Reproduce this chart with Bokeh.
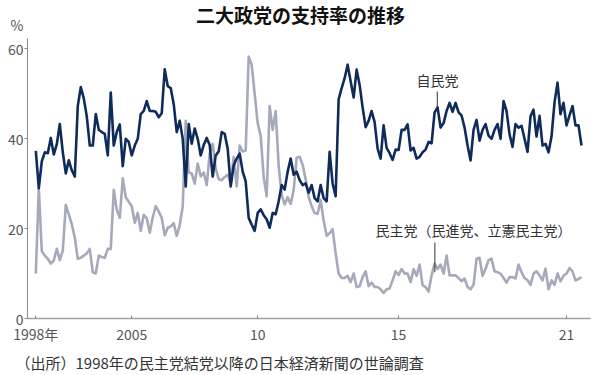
from bokeh.plotting import figure
from bokeh.models import Range1d, FixedTicker, Label, LinearAxis, Title
from bokeh.embed import file_html
from bokeh.resources import INLINE

# --- data (survey index along x) ---
ldp = [37.3, 29, 35, 37, 36.8, 40.2, 36.5, 38.8, 43.3, 37, 32.3, 35.2, 33, 31.6, 47.3, 51.5, 49, 45,
       38.5, 38.5, 45.5, 42, 41.5, 41.1, 36.3, 50.3, 38.5, 41.5, 43.2, 33.9, 40, 39.3, 36.3, 38.5, 40,
       45.5, 46.2, 48.4, 46.2, 46.2, 46, 44.8, 45.7, 55.5, 51.7, 51.3, 47.7, 41.5, 44, 40, 29.4, 43.3,
       38.9, 42.3, 40, 36.3, 38.6, 40.2, 38.6, 31.6, 36.3, 37.2, 41.5, 41.1, 37.8, 29.4, 34.1, 35.6,
       36.7, 32.7, 30.5, 22.4, 20.9, 19.5, 23.5, 24.3, 23, 22.1, 20.2, 23.5, 23.2, 26.1, 29.7, 28.7,
       32.7, 35.6, 32, 32.7, 30.8, 29.7, 30.1, 28, 29.7, 26.8, 26.1, 29.7, 26.8, 26.1, 37.1, 30, 27.2,
       48.8, 51.3, 53.5, 56.5, 52.8, 49.2, 55.4, 52, 47, 42.6, 44, 46.2, 43.7, 37.8, 35.6, 43, 38,
       36.8, 35.3, 37.6, 37.5, 42, 42, 43.2, 37.4, 38, 35.6, 36, 37, 37.6, 39.3, 39, 45.9, 47, 42.5,
       43.5, 46.2, 48, 46, 48, 45.9, 45.2, 42.5, 38.5, 35.2, 42, 44.2, 39.6, 42, 43.3, 40.7, 40, 42,
       43.3, 40, 48.4, 46.2, 41, 38.2, 43.3, 42.5, 42.9, 40, 37.1, 45, 46.5, 40.5, 45.1, 38.5, 38.9,
       37, 40.5, 48.1, 52.5, 45.5, 48, 43, 45.2, 47.3, 43, 43, 38.5]

dpj = [10, 29, 15, 14, 13.3, 12.2, 12.9, 15.5, 13, 15.1, 25.3, 23.2, 21, 18, 13.3, 13.5, 14, 14.5,
       15.5, 10.3, 10, 14, 13.7, 13.5, 15.5, 15.5, 28.6, 24.2, 22.4, 31.2, 27, 26, 25, 21.3, 23.5,
       19.5, 23.1, 22.3, 19.1, 22.5, 25, 23.8, 22.4, 18.5, 20.2, 20.5, 21.2, 18.4, 20.8, 25, 44, 32.5,
       32.3, 30, 34.5, 31.6, 32.5, 29.7, 36.7, 38.9, 33.4, 31, 30.8, 31.5, 32, 30.1, 36, 29.4, 38.5,
       37.2, 37.4, 58.3, 56.5, 50, 43.5, 40.7, 31.5, 27.2, 47.3, 42, 46.2, 34, 27.5, 25.4, 27, 25.5,
       28.6, 35.8, 36, 34.2, 31, 27, 25, 23.5, 23.3, 26.4, 21.8, 18.4, 19, 19.9, 14.5, 10, 9, 9, 9.5,
       8.1, 10, 7, 7.2, 9.2, 10.5, 7.2, 8, 7, 7, 6.5, 5.7, 6.5, 6.7, 8.5, 10.5, 9.7, 11, 10, 10, 8.1,
       11, 9.5, 12, 7.4, 7, 6, 9.6, 12.2, 11, 12, 10, 14, 9.6, 9.6, 9.6, 9, 8.3, 8.9, 7, 6.5, 7.5,
       13.3, 13.5, 9.5, 11, 13, 13.3, 10.5, 10.3, 10, 9, 8, 9.2, 9.2, 8.9, 12, 10.3, 9, 8.5, 7.5, 10,
       10.5, 9.6, 8.5, 11.1, 6.5, 8.5, 7.5, 10, 8.3, 9.5, 10, 11.2, 10.5, 8.5, 8.8, 9.2]

tick_index = [0, 32, 74, 121, 177]
tick_labels = ["1998年", "2005", "10", "15", "21"]
y_ticks = [0, 20, 40, 60]
y_unit = "%"
y_unit_pos = 65.4

title_text = "二大政党の支持率の推移"
source_text = "（出所）1998年の民主党結党以降の日本経済新聞の世論調査"
ldp_name = "自民党"
dpj_name = "民主党（民進党、立憲民主党）"

FONT = "Noto Sans CJK JP"
NAVY = "#0f2b5b"
GRAY = "#a6a9ba"
AXIS = "#8a8a8a"

xs = list(range(len(ldp)))
Y_TOP = 69.9

p = figure(width=600, height=375, output_backend="svg", toolbar_location=None,
           x_range=Range1d(-2.77, 185), y_range=Range1d(0, Y_TOP),
           min_border_left=27, min_border_right=10, min_border_top=4, min_border_bottom=53)
p.outline_line_color = None
p.xgrid.visible = False
p.ygrid.visible = False
p.background_fill_color = "white"
p.border_fill_color = "white"

p.line(xs, dpj, line_color=GRAY, line_width=2.6, line_join="round")
p.line(xs, ldp, line_color=NAVY, line_width=2.6, line_join="round")

# y axis: line + ticks only (labels carried by a second, line-less axis)
p.yaxis.ticker = FixedTicker(ticks=y_ticks)
p.yaxis.bounds = (0, 62.4)
p.yaxis.major_label_overrides = {t: "" for t in y_ticks}
p.yaxis.axis_line_color = AXIS
p.yaxis.major_tick_line_color = AXIS
p.yaxis.major_tick_out = 3
p.yaxis.major_tick_in = 0
p.yaxis.minor_tick_line_color = None
p.yaxis.major_label_standoff = 0

lab_ticks = y_ticks + [y_unit_pos]
lab_over = {t: str(t) for t in y_ticks}
lab_over[y_unit_pos] = y_unit
yl = LinearAxis(ticker=FixedTicker(ticks=lab_ticks), major_label_overrides=lab_over,
                axis_line_color=None, major_tick_line_color=None, minor_tick_line_color=None,
                major_tick_in=0, major_tick_out=0, major_label_standoff=1,
                major_label_text_font=FONT, major_label_text_font_size="14px",
                major_label_text_color="#555555")
p.add_layout(yl, "left")

p.xaxis.ticker = FixedTicker(ticks=tick_index)
p.xaxis.major_label_overrides = {t: l for t, l in zip(tick_index, tick_labels)}
p.xaxis.axis_line_color = "#a0a0a0"
p.xaxis.axis_line_width = 1.5
p.xaxis.major_tick_line_color = AXIS
p.xaxis.major_tick_in = 3
p.xaxis.major_tick_out = 0
p.xaxis.minor_tick_line_color = None
p.xaxis.major_label_standoff = 5
p.xaxis.major_label_text_font = FONT
p.xaxis.major_label_text_font_size = "14px"
p.xaxis.major_label_text_color = "#555555"

# source note below the x axis
p.add_layout(Title(text=source_text, align="left", offset=-12, standoff=6,
                   text_font=FONT, text_font_size="15px", text_font_style="normal",
                   text_color="#333333"), "below")

# annotations
p.segment(x0=[133.9, 133.1], y0=[50.5, 16.9], x1=[133.9, 133.1], y1=[45.9, 10.3],
          line_color="#333333", line_width=1)
p.add_layout(Label(x=134, y=53.2, text=ldp_name, text_align="center", text_baseline="middle",
                   text_font=FONT, text_font_size="14px", text_color="#333333"))
p.add_layout(Label(x=146, y=19.8, text=dpj_name, text_align="center", text_baseline="middle",
                   text_font=FONT, text_font_size="14px", text_color="#333333"))
p.add_layout(Label(x=273, y=304, x_units="screen", y_units="screen", text=title_text,
                   text_align="center", text_baseline="middle",
                   text_font=FONT, text_font_size="19px", text_font_style="bold",
                   text_color="#111111"))

open("out.html", "w").write(file_html(p, INLINE))
